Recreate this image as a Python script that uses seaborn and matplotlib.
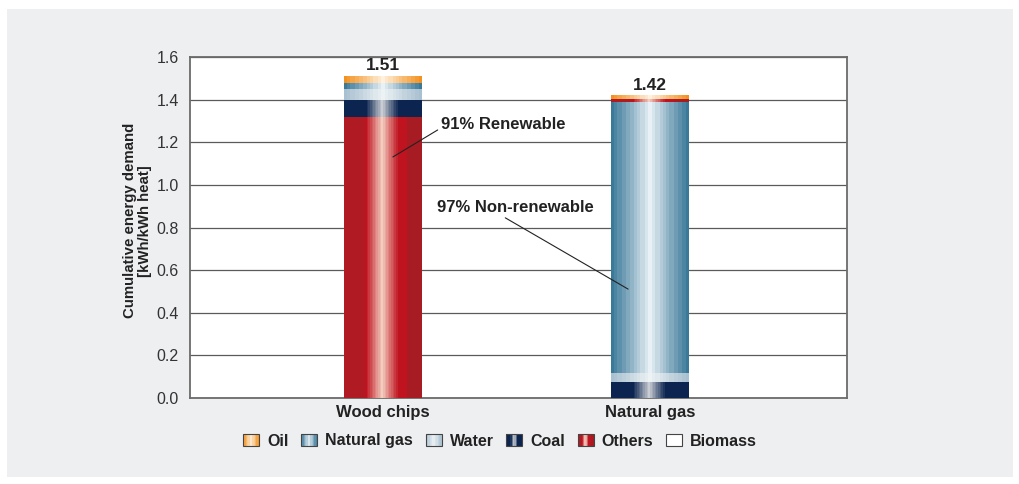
import numpy as np
import pandas as pd
import matplotlib
matplotlib.use("Agg")
import matplotlib.pyplot as plt
import seaborn as sns
from matplotlib.colors import to_rgb
from matplotlib.patches import Rectangle
from matplotlib.legend_handler import HandlerBase

# data, stacked bottom -> top for each bar
categories = ["Wood chips", "Natural gas"]
stack_wood = ["Others", "Coal", "Water", "Natural gas", "Oil"]
values_wood = [1.318, 0.082, 0.051, 0.027, 0.032]
stack_gas = ["Coal", "Water", "Natural gas", "Others", "Oil"]
values_gas = [0.077, 0.042, 1.271, 0.015, 0.015]
totals = ["1.51", "1.42"]
legend_order = ["Oil", "Natural gas", "Water", "Coal", "Others", "Biomass"]

rows = []
for cat, srcs, vals in [(categories[0], stack_wood, values_wood),
                        (categories[1], stack_gas, values_gas)]:
    tops = np.cumsum(vals)
    for lvl, (s, v, t) in enumerate(zip(srcs, vals, tops)):
        rows.append(dict(category=cat, source=s, value=v, top=t, level=lvl))
df = pd.DataFrame(rows)

# shading for the "cylinder" look
edge_col = {"Oil": "#f39220", "Natural gas": "#3b7999", "Water": "#a8c0cf",
            "Coal": "#0b2550", "Others": "#bf1420", "Biomass": "#ffffff"}
mid_col = {"Oil": "#fff1de", "Natural gas": "#e9f1f6", "Water": "#edf2f5",
           "Coal": "#c9cdd3", "Others": "#f4cdbf", "Biomass": "#ffffff"}
narrow = {"Coal", "Others"}


def shade(src, n=48):
    t = (np.arange(n) + 0.5) / n
    if src in narrow:
        w = np.clip(1 - np.abs(t - 0.49) / 0.21, 0, 1) ** 0.9
    else:
        w = np.clip(1 - np.abs(t - 0.5) / 0.5, 0, 1) ** 1.1
    w = np.round(w * 10) / 10
    e = np.tile(to_rgb(edge_col[src]), (n, 1))
    if src == "Others":
        e[t < 0.28] = to_rgb("#b01b23")
        e[t > 0.82] = to_rgb("#a71b22")
    m = np.array(to_rgb(mid_col[src]))
    return e * (1 - w[:, None]) + m * w[:, None]


sns.set_style("white")
plt.rcParams["font.family"] = ["Liberation Sans", "DejaVu Sans"]

fig = plt.figure(figsize=(10.2, 4.84), dpi=100, facecolor="white")
fig.patches.append(Rectangle((7 / 1020, 1 - 477 / 484), 1006 / 1020, 468 / 484,
                             transform=fig.transFigure, facecolor="#eeeff1",
                             edgecolor="none", zorder=-5))
ax = fig.add_axes([190 / 1020, 1 - 398 / 484, 657 / 1020, 341 / 484])
ax.set_facecolor("white")

bar_w = 0.29
nlev = df["level"].max() + 1
z = 3
first = None
for lvl in range(nlev - 1, -1, -1):
    sub = df[df["level"] == lvl]
    sns.barplot(data=sub, x="category", y="top", order=categories, width=bar_w,
                color="white", edgecolor="none", linewidth=0, ax=ax, zorder=z)
    cont = ax.containers[-1]
    if first is None:
        first = cont
    for patch, cat in zip(cont.patches, categories):
        src = sub.loc[sub["category"] == cat, "source"].iloc[0]
        x0 = patch.get_x()
        x1 = x0 + patch.get_width()
        img = shade(src)[np.newaxis, :, :]
        im = ax.imshow(img, extent=[x0, x1, 0, patch.get_height()], aspect="auto",
                       interpolation="nearest", zorder=z + 1)
        im.set_clip_path(patch)
    z += 2

ax.bar_label(first, labels=totals, padding=2, fontsize=12.5, fontweight="bold",
             color="#222222")

ax.set_xlim(-0.723, 1.738)
ax.set_ylim(0, 1.6)
ax.set_yticks(np.arange(0, 1.61, 0.2))
ax.set_yticklabels([f"{v:.1f}" for v in np.arange(0, 1.61, 0.2)])
ax.set_axisbelow(True)
ax.yaxis.grid(True, color="#5a5a5a", linewidth=0.9)
ax.xaxis.grid(False)
for sp in ax.spines.values():
    sp.set_visible(True)
    sp.set_color("#6b6b6b")
    sp.set_linewidth(1.3)
ax.tick_params(axis="y", length=0, pad=8, labelsize=11.5, labelcolor="#333333")
ax.tick_params(axis="x", length=0, pad=5, labelsize=12)
for lab in ax.get_xticklabels():
    lab.set_fontweight("bold")
    lab.set_color("#222222")
ax.set_xlabel("")
ax.set_ylabel("Cumulative energy demand\n[kWh/kWh heat]", fontsize=10.8,
              fontweight="bold", color="#222222", linespacing=1.05)
ax.yaxis.set_label_coords(-0.058, 0.52)

# annotations
ax.annotate("91% Renewable", xy=(0.037, 1.131), xytext=(0.217, 1.281),
            fontsize=12, fontweight="bold", color="#222222", ha="left", va="center",
            arrowprops=dict(arrowstyle="-", color="#222222", lw=0.8,
                            shrinkA=0, shrinkB=0, relpos=(0, 0.3)), zorder=20)
ax.annotate("97% Non-renewable", xy=(0.918, 0.511), xytext=(0.202, 0.896),
            fontsize=12, fontweight="bold", color="#222222", ha="left", va="center",
            arrowprops=dict(arrowstyle="-", color="#222222", lw=0.8,
                            shrinkA=0, shrinkB=0, relpos=(0.4, 0)), zorder=20)


# legend with shaded swatches
class Swatch:
    def __init__(self, src):
        self.src = src


class SwatchHandler(HandlerBase):
    def create_artists(self, legend, orig, xd, yd, width, height, fontsize, trans):
        cols = shade(orig.src, n=12)
        n = len(cols)
        arts = []
        for i, c in enumerate(cols):
            arts.append(Rectangle((-xd + width * i / n, -yd), width / n * 1.05, height,
                                  facecolor=c, edgecolor="none", transform=trans))
        arts.append(Rectangle((-xd, -yd), width, height, facecolor="none",
                              edgecolor="#444444", lw=0.8, transform=trans))
        return arts


leg = fig.legend([Swatch(s) for s in legend_order], legend_order,
                 handler_map={Swatch: SwatchHandler()}, loc="center",
                 bbox_to_anchor=(500 / 1020, 1 - 441 / 484), ncol=6, frameon=False,
                 prop=dict(size=11.5, weight="bold"), handlelength=1.0,
                 handleheight=0.7, handletextpad=0.5, columnspacing=0.8)
for t in leg.get_texts():
    t.set_color("#222222")

fig.savefig("out.png", dpi=100, facecolor="white")
